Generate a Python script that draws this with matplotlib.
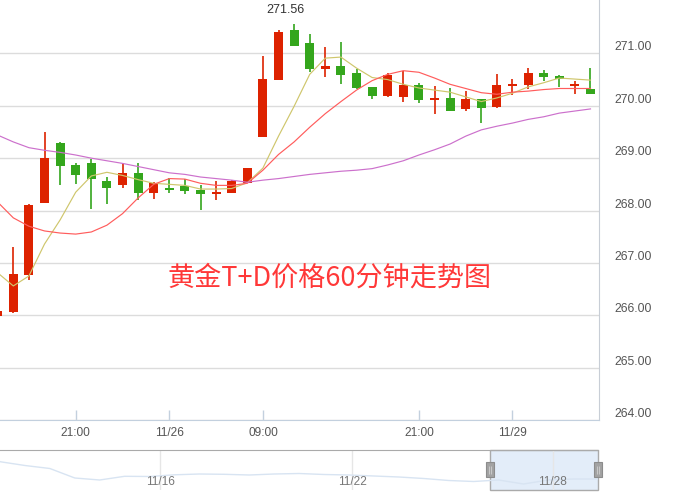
import matplotlib
matplotlib.use('Agg')
import matplotlib.pyplot as plt
from matplotlib.patches import Rectangle
import numpy as np

plt.rcParams['font.family'] = ['Liberation Sans', 'Noto Sans CJK SC', 'DejaVu Sans']

# 60 minute candles, index -1 is the partly hidden one on the left edge
opens = [265.99, 266.07, 266.77, 268.15, 269.29, 268.87, 268.91, 268.56, 268.49, 268.71,
         268.34, 268.43, 268.47, 268.40, 268.32, 268.34, 268.53, 269.40, 270.50, 271.44,
         271.20, 270.71, 270.76, 270.63, 270.36, 270.19, 270.17, 270.39, 270.11, 270.15,
         269.94, 270.13, 269.98, 270.37, 270.39, 270.62, 270.57, 270.37, 270.32]
closes = [266.08, 266.78, 268.10, 269.00, 268.85, 268.68, 268.61, 268.43, 268.71, 268.34,
          268.52, 268.40, 268.38, 268.32, 268.36, 268.56, 268.81, 270.51, 271.41, 271.14,
          270.71, 270.76, 270.59, 270.34, 270.19, 270.59, 270.40, 270.11, 270.15, 269.90,
          270.13, 269.96, 270.39, 270.41, 270.62, 270.55, 270.51, 270.41, 270.22]
highs = [266.08, 267.30, 268.12, 269.50, 269.31, 268.91, 268.98, 268.64, 268.91, 268.91,
         268.55, 268.62, 268.60, 268.49, 268.56, 268.59, 268.82, 270.95, 271.44, 271.56,
         271.37, 271.12, 271.21, 270.71, 270.36, 270.63, 270.67, 270.43, 270.38, 270.34,
         270.28, 270.13, 270.60, 270.51, 270.72, 270.68, 270.59, 270.48, 270.72]
lows = [265.99, 266.05, 266.67, 268.15, 268.49, 268.51, 268.03, 268.13, 268.43, 268.21,
        268.22, 268.34, 268.32, 268.01, 268.21, 268.33, 268.52, 269.40, 270.50, 271.14,
        270.65, 270.55, 270.42, 270.33, 270.13, 270.17, 270.08, 270.06, 269.85, 269.90,
        269.90, 269.67, 269.96, 270.20, 270.32, 270.47, 270.36, 270.22, 270.22]

ma5 = [266.81, 266.56, 266.75, 267.36, 267.82, 268.35, 268.66, 268.73, 268.67, 268.59,
       268.52, 268.50, 268.48, 268.41, 268.41, 268.42, 268.53, 268.81, 269.42, 269.99,
       270.60, 270.91, 270.93, 270.72, 270.54, 270.50, 270.41, 270.34, 270.30, 270.26,
       270.17, 270.08, 270.15, 270.24, 270.36, 270.44, 270.53, 270.51, 270.49]
ma10 = [268.16, 267.86, 267.70, 267.61, 267.57, 267.55, 267.59, 267.72, 267.94, 268.24,
        268.50, 268.61, 268.60, 268.52, 268.48, 268.48, 268.52, 268.77, 269.07, 269.31,
        269.59, 269.85, 270.08, 270.30, 270.48, 270.60, 270.67, 270.64, 270.53, 270.41,
        270.33, 270.25, 270.22, 270.26, 270.28, 270.31, 270.33, 270.33, 270.33]
ma30 = [269.44, 269.31, 269.20, 269.15, 269.11, 269.06, 269.00, 268.95, 268.90, 268.84,
        268.78, 268.72, 268.69, 268.64, 268.61, 268.58, 268.54, 268.58, 268.61, 268.65,
        268.69, 268.72, 268.75, 268.77, 268.80, 268.87, 268.95, 269.06, 269.16, 269.27,
        269.42, 269.54, 269.61, 269.67, 269.74, 269.79, 269.86, 269.90, 269.94]

xtick_pos = [4, 10, 16, 26, 32]
xtick_labels = ['21:00', '11/26', '09:00', '21:00', '11/29']
ytick_vals = [264, 265, 266, 267, 268, 269, 270, 271]

# overview slider
shadow = [273.32, 271.80, 270.60, 266.80, 266.00, 267.48, 267.40, 268.08, 268.40, 268.28,
          268.00, 268.40, 268.60, 268.20, 268.00, 267.60, 267.20, 266.60, 265.80, 265.40,
          266.00, 264.40, 266.00, 266.40, 266.40]
slider_ticks = [0, 3.92, 8]
slider_labels = ['11/16', '11/22', '11/28']
slider_range = (-3.26, 8.93)
window = (6.73, 8.93)

red = '#dd2200'
green = '#34a61c'

fig = plt.figure(figsize=(6.83, 4.96), dpi=100)
ax = fig.add_axes([0, 76/496, 599/683, 420/496])

idx = np.arange(-1, len(opens) - 1)
o = np.array(opens)
c = np.array(closes)
cols = [red if cc >= oo else green for oo, cc in zip(o, c)]

ax.vlines(idx, lows, highs, colors=cols, lw=1.2, zorder=3)
ax.bar(idx, np.abs(c - o), bottom=np.minimum(o, c), width=0.58, color=cols, linewidth=0, zorder=3)

ax.plot(idx, ma5, color='#cfc66c', lw=0.85, zorder=4)
ax.plot(idx, ma10, color='#ff5c5c', lw=0.85, zorder=4)
ax.plot(idx, ma30, color='#cc70cc', lw=0.85, zorder=4)

ax.set_xlim(-0.853, 37.545)
ax.set_ylim(264, 272.02)

ax.yaxis.tick_right()
ax.set_yticks(ytick_vals)
ax.set_yticklabels(['%.2f' % v for v in ytick_vals])
ax.tick_params(axis='y', length=0, pad=11, labelsize=8.8, labelcolor='#555555')
for lab in ax.get_yticklabels():
    lab.set_verticalalignment('bottom')
ax.grid(axis='y', color='#dcdcdc', lw=1)
ax.set_axisbelow(True)

ax.set_xticks(xtick_pos)
ax.set_xticklabels(xtick_labels)
ax.tick_params(axis='x', direction='in', length=7, width=1, color='#c3d0de',
               pad=5, labelsize=8.6, labelcolor='#555555')

for s in ['top', 'left']:
    ax.spines[s].set_visible(False)
ax.spines['bottom'].set_color('#c3d0de')
ax.spines['right'].set_color('#c8ced6')

ax.text(0.551, 0.339, '黄金T+D价格60分钟走势图', transform=ax.transAxes,
        ha='center', va='center', fontsize=19.5, color='#ff3838',
        family=['Noto Sans CJK SC', 'DejaVu Sans'])

top_i = int(np.argmax(highs)) - 1
ax.text(top_i - 0.58, 271.83, '%.2f' % max(highs), ha='center', va='center',
        fontsize=9, color='#333333')

# slider
sax = fig.add_axes([0, 6/496, 598.3/683, 40/496])
sax.set_xlim(*slider_range)
sax.set_ylim(262, 278)
for s in ['left', 'right', 'bottom']:
    sax.spines[s].set_visible(False)
sax.spines['top'].set_color('#aaaaaa')
sax.set_xticks([])
sax.set_yticks([])
sax.axvspan(window[0], window[1], facecolor='#e3edf9', edgecolor='#aaaaaa', lw=1, clip_on=False, zorder=1)
sax.vlines(slider_ticks, 262, 278, colors='#e6e6e6', lw=1, zorder=2)
sax.plot(np.linspace(slider_range[0], slider_range[1], len(shadow)), shadow,
         color='#d8e4f2', lw=1, zorder=3)
for t, lab in zip(slider_ticks, slider_labels):
    sax.text(t, 265.3, lab, ha='center', va='center', fontsize=8.6, color='#777777', zorder=4)
for w in window:
    sax.add_patch(Rectangle((w - 0.085, 267.2), 0.17, 6.0, facecolor='#a3a3a3',
                            edgecolor='#8c8c8c', lw=0.8, clip_on=False, zorder=5))
    sax.vlines([w - 0.02, w + 0.02], 268.6, 271.8, colors='#d0d0d0', lw=0.6, clip_on=False, zorder=6)

fig.savefig('out.png', dpi=100)
